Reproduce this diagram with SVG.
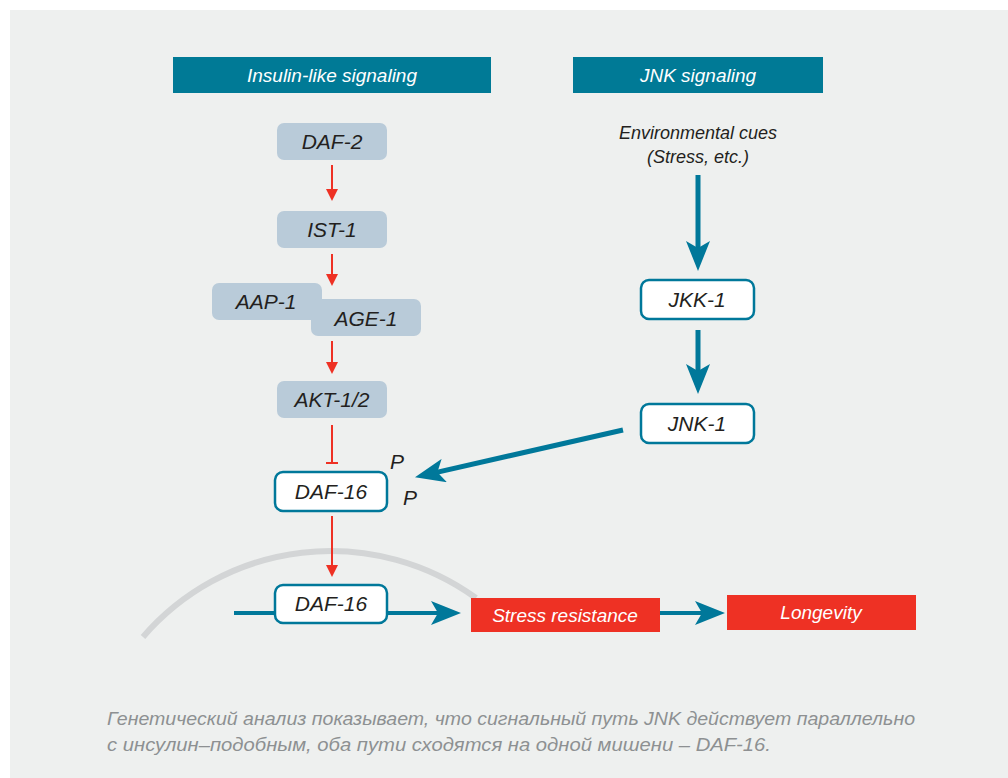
<svg xmlns="http://www.w3.org/2000/svg" width="1008" height="778" viewBox="0 0 1008 778">
<defs>
<style>
.hdr{fill:#007a96}
.hdrt{fill:#fff;font-family:"Liberation Sans",Arial,sans-serif;font-style:italic;font-size:19px;text-anchor:middle}
.gb{fill:#b9cbd9}
.ob{fill:#fff;stroke:#00789a;stroke-width:2.5}
.lbl{fill:#231f20;font-family:"Liberation Sans",Arial,sans-serif;font-style:italic;font-size:21px;text-anchor:middle}
.env{fill:#231f20;font-family:"Liberation Sans",Arial,sans-serif;font-style:italic;font-size:18px;text-anchor:middle}
.rb{fill:#ee3124}
.rt{fill:#fff;font-family:"Liberation Sans",Arial,sans-serif;font-style:italic;font-size:19px;text-anchor:middle}
.red{stroke:#ee3124;stroke-width:2;fill:none}
.teal{stroke:#00789a;stroke-width:5;fill:none}
.teal4{stroke:#00789a;stroke-width:4;fill:none}
.cap{fill:#8d9092;font-family:"Liberation Sans",Arial,sans-serif;font-style:italic;font-size:18px}
</style>
<marker id="ra" markerUnits="userSpaceOnUse" markerWidth="12" markerHeight="12" viewBox="0 0 12 12" refX="5" refY="6" orient="auto">
<path d="M0,0 L12,6 L0,12 z" fill="#ee3124"/>
</marker>
<marker id="ta" markerUnits="userSpaceOnUse" markerWidth="30" markerHeight="24" viewBox="0 0 30 24" refX="18" refY="12" orient="auto">
<path d="M0,0 L30,12 L0,24 L7,12 z" fill="#00789a"/>
</marker>
</defs>
<rect x="10" y="10" width="998" height="768" fill="#eef0ef"/>

<g id="hdr-insulin">
<rect class="hdr" x="173" y="57" width="318" height="36"/>
<text class="hdrt" x="332" y="82">Insulin-like signaling</text>
</g>
<g id="hdr-jnk">
<rect class="hdr" x="573" y="57" width="250" height="36"/>
<text class="hdrt" x="698" y="82">JNK signaling</text>
</g>

<g id="arc">
<path d="M143,637 A248,248 0 0 1 476,598" fill="none" stroke="#d3d5d6" stroke-width="6"/>
</g>

<g id="connectors">
<line class="red" x1="332" y1="165" x2="332" y2="194" marker-end="url(#ra)"/>
<line class="red" x1="332" y1="254" x2="332" y2="279" marker-end="url(#ra)"/>
<line class="red" x1="332" y1="341" x2="332" y2="367" marker-end="url(#ra)"/>
<line class="red" x1="332" y1="425" x2="332" y2="463"/>
<line class="red" x1="326" y1="463" x2="338" y2="463"/>
<line class="red" x1="332" y1="516" x2="332" y2="570" marker-end="url(#ra)"/>
<line class="teal" x1="698" y1="175" x2="698" y2="259" marker-end="url(#ta)"/>
<line class="teal" x1="698" y1="330" x2="698" y2="382" marker-end="url(#ta)"/>
<line class="teal" x1="623" y1="430" x2="426.7" y2="474.6" marker-end="url(#ta)"/>
<line class="teal4" x1="234" y1="613" x2="276" y2="613"/>
<line class="teal4" x1="386" y1="613" x2="449" y2="613" marker-end="url(#ta)"/>
<line class="teal4" x1="660" y1="613" x2="713" y2="613" marker-end="url(#ta)"/>
</g>

<g id="daf2">
<rect class="gb" x="277" y="123" width="110" height="37" rx="7"/>
<text class="lbl" x="332" y="149">DAF-2</text>
</g>
<g id="ist1">
<rect class="gb" x="277" y="211" width="110" height="37" rx="7"/>
<text class="lbl" x="332" y="237">IST-1</text>
</g>
<g id="aap1">
<rect class="gb" x="212" y="283" width="110" height="37" rx="7"/>
<text class="lbl" x="266" y="309">AAP-1</text>
</g>
<g id="age1">
<rect class="gb" x="311" y="299" width="110" height="37" rx="7"/>
<text class="lbl" x="366" y="326">AGE-1</text>
</g>
<g id="akt">
<rect class="gb" x="277" y="381" width="110" height="37" rx="7"/>
<text class="lbl" x="332" y="407">AKT-1/2</text>
</g>
<g id="daf16">
<rect class="ob" x="275" y="472" width="112" height="39" rx="8"/>
<text class="lbl" x="331" y="499">DAF-16</text>
<text class="lbl" x="397" y="469">P</text>
<text class="lbl" x="410" y="505">P</text>
</g>
<g id="daf16-nuc">
<rect class="ob" x="275" y="585" width="112" height="38" rx="8"/>
<text class="lbl" x="331" y="611">DAF-16</text>
</g>
<g id="env">
<text class="env" x="698" y="139">Environmental cues</text>
<text class="env" x="698" y="163">(Stress, etc.)</text>
</g>
<g id="jkk1">
<rect class="ob" x="641" y="280" width="113" height="39" rx="8"/>
<text class="lbl" x="697" y="307">JKK-1</text>
</g>
<g id="jnk1">
<rect class="ob" x="641" y="404" width="113" height="39" rx="8"/>
<text class="lbl" x="697" y="431">JNK-1</text>
</g>
<g id="stress">
<rect class="rb" x="471" y="598" width="189" height="34"/>
<text class="rt" x="565" y="622">Stress resistance</text>
</g>
<g id="longevity">
<rect class="rb" x="727" y="595" width="189" height="35"/>
<text class="rt" x="821" y="619">Longevity</text>
</g>
<g id="caption">
<text class="cap" x="107" y="725" textLength="808" lengthAdjust="spacingAndGlyphs">Генетический анализ показывает, что сигнальный путь JNK действует параллельно</text>
<text class="cap" x="107" y="751" textLength="664" lengthAdjust="spacingAndGlyphs">с инсулин–подобным, оба пути сходятся на одной мишени – DAF-16.</text>
</g>
</svg>
